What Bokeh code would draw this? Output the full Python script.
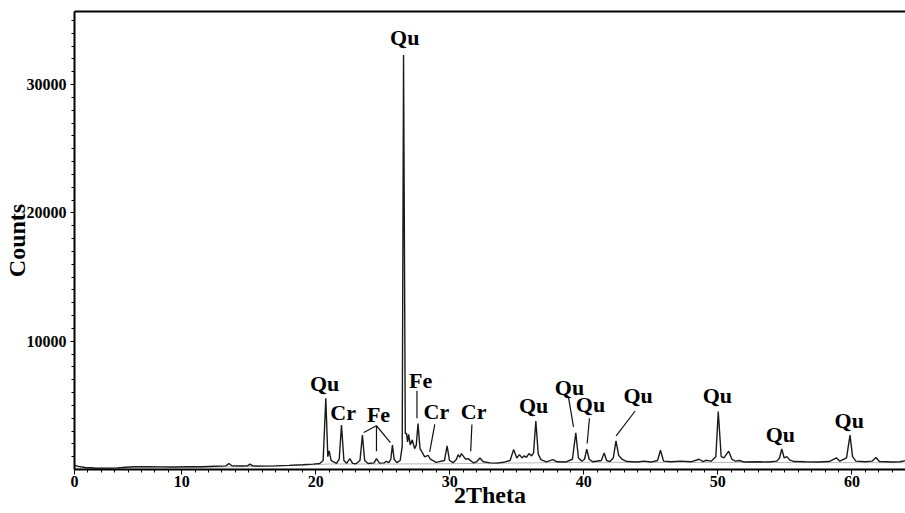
from bokeh.plotting import figure
from bokeh.models import (FixedTicker, LinearAxis, Range1d, ColumnDataSource)
from bokeh.core.properties import value
from bokeh.embed import file_html
from bokeh.resources import INLINE

# ---- data ----
two_theta = [1.92, 2.3, 2.8, 3.5, 4.5, 5.2, 5.8, 6.5, 7.5, 8.5, 9.5, 10.5, 11.5, 12.5, 13.3, 13.52, 13.75,
             14.5, 14.9, 15.09, 15.3, 16.0, 17.0, 18.0, 19.0, 19.8, 20.3, 20.55, 20.75, 20.9, 21.0, 21.15,
             21.55, 21.75, 21.92, 22.1, 22.3, 22.54, 22.75, 23.0, 23.3, 23.48, 23.65, 23.9, 24.35, 24.53,
             24.75, 25.1, 25.27, 25.45, 25.6, 25.72, 25.85, 26.05, 26.3, 26.45, 26.55, 26.68, 26.77, 26.85,
             26.93, 27.05, 27.2, 27.38, 27.5, 27.63, 27.78, 28.13, 28.38, 28.55, 28.98, 29.6, 29.8, 29.98,
             30.25, 30.5, 30.62, 30.75, 30.87, 31.05, 31.2, 31.37, 31.75, 32.0, 32.25, 32.5, 33.0, 33.5,
             34.0, 34.5, 34.76, 35.0, 35.2, 35.38, 35.56, 35.72, 35.9, 36.1, 36.25, 36.42, 36.6, 36.8,
             37.2, 37.7, 38.0, 38.68, 39.15, 39.4, 39.6, 39.85, 40.05, 40.22, 40.4, 40.68, 41.3, 41.52,
             41.7, 41.95, 42.2, 42.4, 42.6, 42.85, 43.2, 44.0, 44.5, 45.0, 45.5, 45.72, 45.95, 46.5, 47.2,
             48.0, 48.6, 48.9, 49.1, 49.5, 49.85, 50.03, 50.25, 50.45, 50.81, 51.05, 51.3, 51.6, 52.0,
             53.0, 53.8, 54.4, 54.6, 54.77, 54.95, 55.15, 55.35, 55.7, 56.5, 57.5, 58.3, 58.85, 59.1,
             59.6, 59.86, 60.05, 60.3, 61.0, 61.5, 61.79, 62.05, 63.0, 63.6, 64.0]
counts = [340, 240, 160, 115, 105, 125, 180, 215, 225, 205, 195, 225, 220, 255, 280, 470, 290,
          270, 285, 420, 280, 265, 285, 320, 370, 420, 470, 700, 5550, 1000, 1450, 700,
          470, 800, 3470, 700, 480, 850, 480, 450, 700, 2680, 700, 470, 520, 850,
          500, 520, 640, 540, 800, 1900, 800, 540, 700, 1800, 32300, 2800, 2810, 2160,
          2730, 1920, 2310, 1630, 1900, 3590, 1630, 980, 1110, 800, 560, 700, 1840, 700,
          530, 800, 1160, 950, 1240, 980, 800, 850, 530, 600, 900, 600, 520, 500,
          560, 700, 1550, 900, 1160, 900, 1060, 950, 1240, 1060, 1300, 3780, 1200, 770,
          600, 770, 600, 590, 800, 2860, 900, 640, 800, 1580, 800, 600, 700, 1280,
          700, 620, 900, 2235, 1100, 800, 620, 580, 650, 580, 700, 1500, 650, 600, 650,
          600, 800, 620, 720, 650, 1000, 4510, 1000, 900, 1430, 800, 650, 700, 580,
          600, 580, 650, 900, 1600, 900, 1000, 750, 620, 600, 580, 620, 900, 650,
          900, 2680, 1000, 650, 600, 650, 940, 620, 580, 600, 700]

bg_theta = [1.92, 5.0, 10.0, 15.0, 20.0, 21.0, 26.0, 30.0, 40.0, 50.0, 64.0]
bg_counts = [100, 100, 150, 220, 380, 430, 430, 450, 560, 550, 530]

label_text = ["Qu", "Qu", "Cr", "Fe", "Fe", "Cr", "Cr", "Qu", "Qu", "Qu", "Qu", "Qu", "Qu", "Qu"]
label_theta = [26.64, 20.66, 22.04, 24.68, 27.83, 29.0, 31.78, 36.25, 38.93, 40.5, 44.05, 49.96, 54.66, 59.8]
label_counts = [33700, 6730, 4450, 4270, 6940, 4510, 4510, 4980, 6390, 5100, 5760, 5760, 2745, 3800]

lead_x0 = [24.53, 24.53, 24.53, 27.55, 28.88, 31.65, 38.86, 40.42, 43.83]
lead_y0 = [3410, 3410, 3410, 6130, 3510, 3510, 5610, 3990, 4560]
lead_x1 = [23.58, 24.53, 25.57, 27.55, 28.5, 31.56, 39.23, 40.25, 42.41]
lead_y1 = [2890, 1430, 2100, 3990, 1370, 1430, 3330, 2025, 2630]

x_major = [2, 10, 20, 30, 40, 50, 60]
x_major_text = {2: "0"}
x_minor = list(range(3, 64))
y_major = [10000, 20000, 30000]
y_minor = list(range(1000, 36000, 1000))

FONT = "Liberation Serif"

p = figure(width=905, height=513, output_backend="svg", toolbar_location=None,
           x_range=Range1d(2, 64), y_range=Range1d(0, 35700),
           min_border_left=73, min_border_right=0, min_border_top=11, min_border_bottom=44)
p.grid.visible = False
p.outline_line_color = None
p.background_fill_color = "white"

# background line and pattern
p.line(bg_theta, bg_counts, line_color="#b8b8b8", line_width=1)
p.line(two_theta, counts, line_color="#1a1a1a", line_width=1.4)

p.segment(x0=lead_x0, y0=lead_y0, x1=lead_x1, y1=lead_y1, line_color="#111111", line_width=1.2)

src = ColumnDataSource(dict(x=label_theta, y=label_counts, t=label_text))
p.text(x="x", y="y", text="t", source=src, text_font=value(FONT), text_font_style="bold",
       text_font_size="22px", text_align="center", text_baseline="middle", text_color="black")

# axes
xa = p.xaxis[0]
xa.ticker = FixedTicker(ticks=x_major, minor_ticks=x_minor)
xa.major_label_overrides = x_major_text
xa.axis_label = "2Theta"
ya = p.yaxis[0]
ya.ticker = FixedTicker(ticks=y_major, minor_ticks=y_minor)
ya.axis_label = "Counts"
for ax in (xa, ya):
    ax.axis_line_width = 2
    ax.axis_line_color = "black"
    ax.major_tick_line_color = "black"
    ax.minor_tick_line_color = "black"
    ax.major_tick_in = 0
    ax.minor_tick_in = 0
    ax.major_label_text_font = FONT
    ax.major_label_text_font_style = "bold"
    ax.major_label_text_font_size = "16px"
    ax.major_label_text_color = "black"
    ax.axis_label_text_font = FONT
    ax.axis_label_text_font_style = "bold"
    ax.axis_label_text_font_size = "24px"
    ax.axis_label_text_color = "black"
xa.major_tick_out = 5
xa.minor_tick_out = 3
xa.major_label_standoff = 1
xa.axis_label_standoff = -8
ya.major_tick_out = 4
ya.minor_tick_out = 3
ya.major_label_standoff = 4
ya.axis_label_standoff = -6

top = LinearAxis(ticker=FixedTicker(ticks=[]), major_label_text_font_size="0px",
                 major_label_standoff=0, axis_label_standoff=0,
                 major_tick_out=0, minor_tick_out=0, axis_line_width=2, axis_line_color="black")
p.add_layout(top, "above")

open("out.html", "w").write(file_html(p, INLINE))
